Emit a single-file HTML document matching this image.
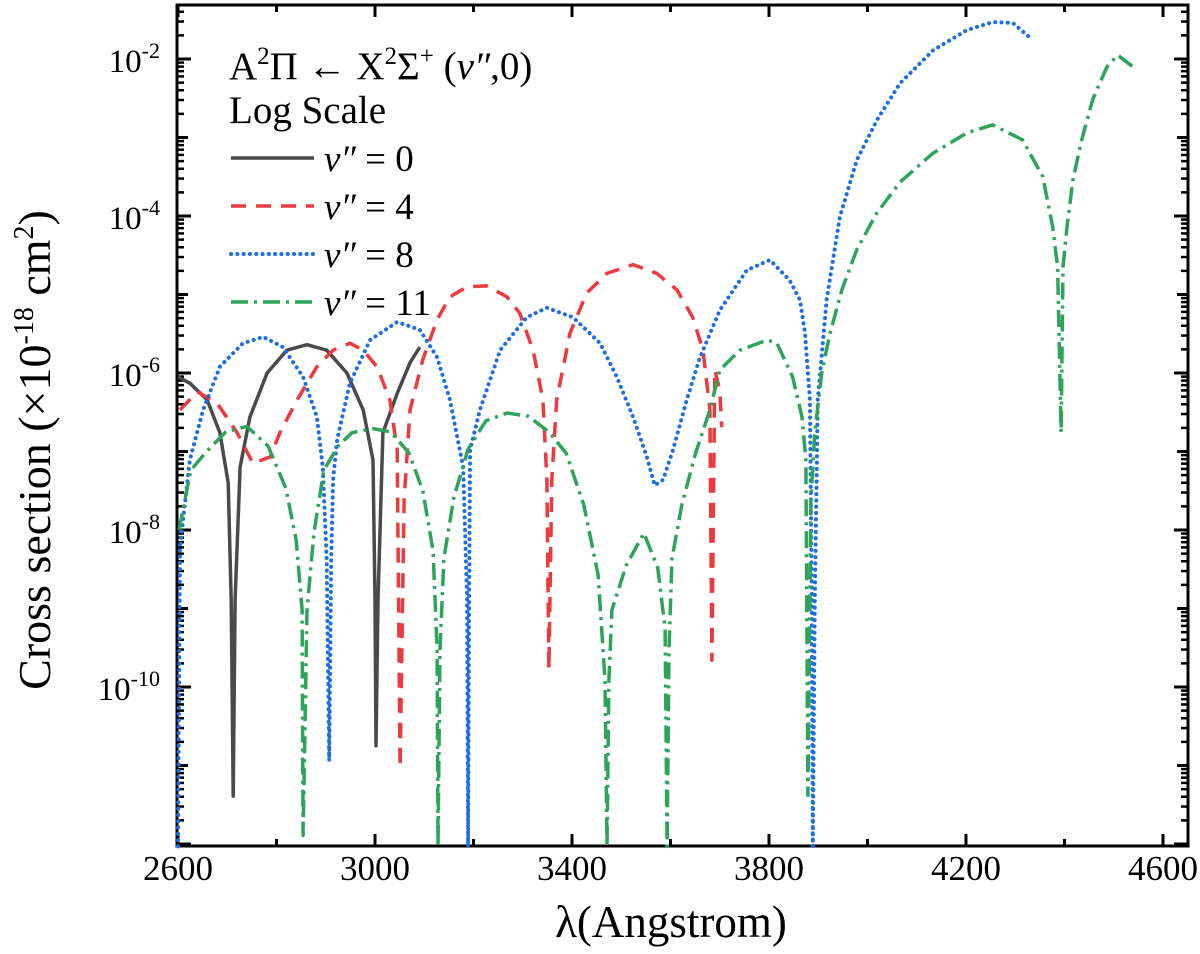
<!DOCTYPE html>
<html><head><meta charset="utf-8"><style>
body{margin:0;background:#fff;}
svg{display:block;font-family:"Liberation Serif",serif;}
</style></head><body>
<svg id="chart" width="1200" height="954" viewBox="0 0 1200 954">
<g id="axes"></g>
<g id="series"></g>
<g id="legend">
 <text x="229" y="79" font-size="39">A<tspan dy="-15" font-size="25">2</tspan><tspan dy="15">Π ← X</tspan><tspan dy="-15" font-size="25">2</tspan><tspan dy="15">Σ</tspan><tspan dy="-15" font-size="25">+</tspan><tspan dy="15"> (</tspan><tspan font-style="italic">ν″</tspan>,0)</text>
 <text x="229" y="123" font-size="39">Log Scale</text>
</g>
<text x="671" y="937" font-size="45" text-anchor="middle">λ(Angstrom)</text>
<text transform="translate(50,450) rotate(-90)" font-size="46" text-anchor="middle">Cross section (×10<tspan dy="-17" font-size="28">-18</tspan><tspan dy="17"> cm</tspan><tspan dy="-17" font-size="28">2</tspan><tspan dy="17">)</tspan></text>
</svg>
<script>
const xTicks=[2600,3000,3400,3800,4200,4600];
const yTickExps=[-2,-4,-6,-8,-10];
const seriesNames=["ν″ = 0","ν″ = 4","ν″ = 8","ν″ = 11"];
const lam0=[2600,2624,2659,2685,2702,2708,2712,2716,2726,2746,2781,2821,2862,2902,2943,2976,2996,3000,3002,3006,3016,3045,3071,3091];
const log0=[-6.05,-6.13,-6.34,-6.76,-7.40,-8.89,-11.39,-8.89,-7.20,-6.56,-6.00,-5.71,-5.64,-5.71,-6.00,-6.47,-7.11,-8.89,-10.75,-8.89,-6.76,-6.26,-5.87,-5.67];
const lam4=[2604,2639,2679,2720,2752,2787,2807,2842,2882,2915,2949,2976,3004,3030,3045,3051,3059,3071,3097,3126,3152,3187,3227,3268,3294,3321,3341,3349,3353,3359,3369,3396,3430,3471,3524,3572,3613,3645,3666,3680,3684,3690,3700,3704];
const log4=[-6.47,-6.24,-6.38,-6.76,-7.15,-7.07,-6.76,-6.34,-5.92,-5.71,-5.62,-5.71,-5.92,-6.34,-6.98,-11.03,-7.62,-6.47,-5.83,-5.32,-5.03,-4.90,-4.89,-5.03,-5.24,-5.71,-6.34,-7.36,-9.78,-7.36,-6.34,-5.49,-4.98,-4.73,-4.62,-4.73,-4.94,-5.29,-5.71,-6.47,-9.66,-5.96,-6.22,-6.69];
const lam8=[2600,2604,2624,2651,2685,2732,2773,2813,2854,2882,2894,2902,2907,2911,2915,2923,2949,2990,3045,3091,3126,3152,3179,3187,3189,3191,3193,3213,3254,3308,3349,3402,3457,3491,3524,3552,3568,3585,3605,3633,3660,3700,3755,3802,3842,3863,3873,3883,3887,3889,3893,3899,3917,3944,3978,4019,4066,4133,4202,4254,4295,4334];
const log8=[-12.03,-8.22,-7.11,-6.47,-5.92,-5.62,-5.54,-5.67,-6.05,-6.56,-7.20,-8.38,-10.94,-8.38,-7.36,-6.85,-6.13,-5.58,-5.35,-5.45,-5.80,-6.34,-7.20,-8.89,-12.03,-8.89,-6.98,-6.47,-5.71,-5.29,-5.17,-5.29,-5.62,-6.05,-6.56,-7.07,-7.43,-7.36,-6.98,-6.34,-5.80,-5.20,-4.69,-4.56,-4.82,-5.07,-5.49,-6.34,-8.89,-12.03,-8.89,-6.34,-5.07,-4.01,-3.29,-2.78,-2.31,-1.89,-1.63,-1.53,-1.54,-1.75];
const lam11=[2602,2626,2655,2697,2740,2783,2819,2840,2852,2854,2862,2876,2896,2925,2953,2996,3032,3069,3097,3118,3126,3128,3132,3140,3160,3189,3225,3268,3311,3353,3388,3424,3453,3467,3471,3475,3481,3510,3546,3574,3589,3593,3597,3603,3623,3651,3680,3700,3741,3796,3816,3848,3867,3875,3879,3885,3893,3907,3924,3948,3978,4019,4066,4133,4202,4254,4315,4356,4376,4386,4393,4397,4405,4417,4435,4457,4486,4508,4539];
const log11=[-8.00,-7.24,-7.02,-6.75,-6.68,-6.93,-7.47,-8.13,-9.02,-11.89,-9.02,-8.04,-7.24,-6.93,-6.76,-6.71,-6.75,-7.02,-7.50,-8.27,-9.53,-12.03,-9.53,-8.36,-7.59,-6.97,-6.61,-6.51,-6.55,-6.75,-7.02,-7.68,-8.57,-9.91,-12.03,-9.91,-9.02,-8.45,-8.04,-8.48,-9.25,-12.03,-9.53,-8.36,-7.68,-7.02,-6.47,-5.96,-5.71,-5.58,-5.62,-6.05,-6.56,-7.11,-11.38,-7.62,-6.76,-6.00,-5.49,-4.94,-4.43,-3.96,-3.57,-3.20,-2.94,-2.84,-3.03,-3.50,-4.14,-4.65,-6.76,-4.65,-4.14,-3.54,-3.03,-2.52,-2.10,-1.95,-2.10];

const NS="http://www.w3.org/2000/svg";
const L=177,R=1188,T=5,B=846;
const sx=v=>178+(v-2600)*0.4925;
const sy=lg=>59+(-2-lg)*78.5;
const yMin=-12.03,yMax=-1.31;
function mk(tag,attrs,parent){const e=document.createElementNS(NS,tag);for(const k in attrs)e.setAttribute(k,attrs[k]);parent.appendChild(e);return e;}
const axes=document.getElementById('axes');
const frame=mk('rect',{x:L,y:T,width:R-L,height:B-T,fill:'none',stroke:'#000','stroke-width':3},axes);


for(let v=2600;v<=4600;v+=200){
  const major=xTicks.includes(v);const len=major?12:7;const x=sx(v);
  const t1=mk('line',{x1:x,x2:x,y1:B,y2:B-len,stroke:'#000','stroke-width':3},axes);
  
  
  const t2=mk('line',{x1:x,x2:x,y1:T,y2:T+len,stroke:'#000','stroke-width':3},axes);
  
  
}
xTicks.forEach(v=>{
  const t=mk('text',{x:sx(v),y:880,'font-size':35,'text-anchor':'middle'},axes);t.textContent=v;
  
  
});
for(let e=-13;e<=-1;e++){
  for(let m=1;m<10;m++){
    const lg=e+Math.log10(m);if(lg<yMin||lg>yMax)continue;
    const y=sy(lg);const len=m===1?(e%2===0?14:11):7;
    const a=mk('line',{x1:L,x2:L+len,y1:y,y2:y,stroke:'#000','stroke-width':m===1?3:2.5},axes);
    
    
    const b=mk('line',{x1:R,x2:R-len,y1:y,y2:y,stroke:'#000','stroke-width':m===1?3:2.5},axes);
    
    
  }
}
yTickExps.forEach(e=>{
  const t=mk('text',{x:160,y:sy(e)+13,'font-size':33,'text-anchor':'end'},axes);
  t.innerHTML='10<tspan dy="-14" font-size="22">'+e+'</tspan>';
  
  
});
const styles=[
 {c:'#4a4a4a',d:'',w:3.5,cap:'butt'},
 {c:'#ec3a3e',d:'15 10',w:3.5,cap:'butt'},
 {c:'#1d6ee3',d:'0.1 6.2',w:4,cap:'round'},
 {c:'#2ea45b',d:'17 6 3 6',w:3.5,cap:'butt'}];
const data=[[lam0,log0],[lam4,log4],[lam8,log8],[lam11,log11]];
const sg=document.getElementById('series');
const names=['series-v0','series-v4','series-v8','series-v11'];
data.forEach((s,i)=>{
  const pts=s[0].map((v,j)=>sx(v).toFixed(1)+','+sy(s[1][j]).toFixed(1)).join(' ');
  const st=styles[i];
  const p=mk('polyline',{points:pts,fill:'none',stroke:st.c,'stroke-width':st.w,'stroke-dasharray':st.d,'stroke-linecap':st.cap,'stroke-linejoin':'round'},sg);
  
  
});
const lg=document.getElementById('legend');
const rows=[158,206,254,302];
seriesNames.forEach((n,i)=>{
  const st=styles[i];
  const l=mk('line',{x1:231,x2:314,y1:rows[i],y2:rows[i],stroke:st.c,'stroke-width':st.w,'stroke-dasharray':st.d,'stroke-linecap':st.cap},lg);
  
  
  const t=mk('text',{x:324,y:rows[i]+13,'font-size':37},lg);
  t.innerHTML='<tspan font-style="italic">ν″</tspan> = '+n.split('= ')[1];
  
  
});
</script>
</body></html>
